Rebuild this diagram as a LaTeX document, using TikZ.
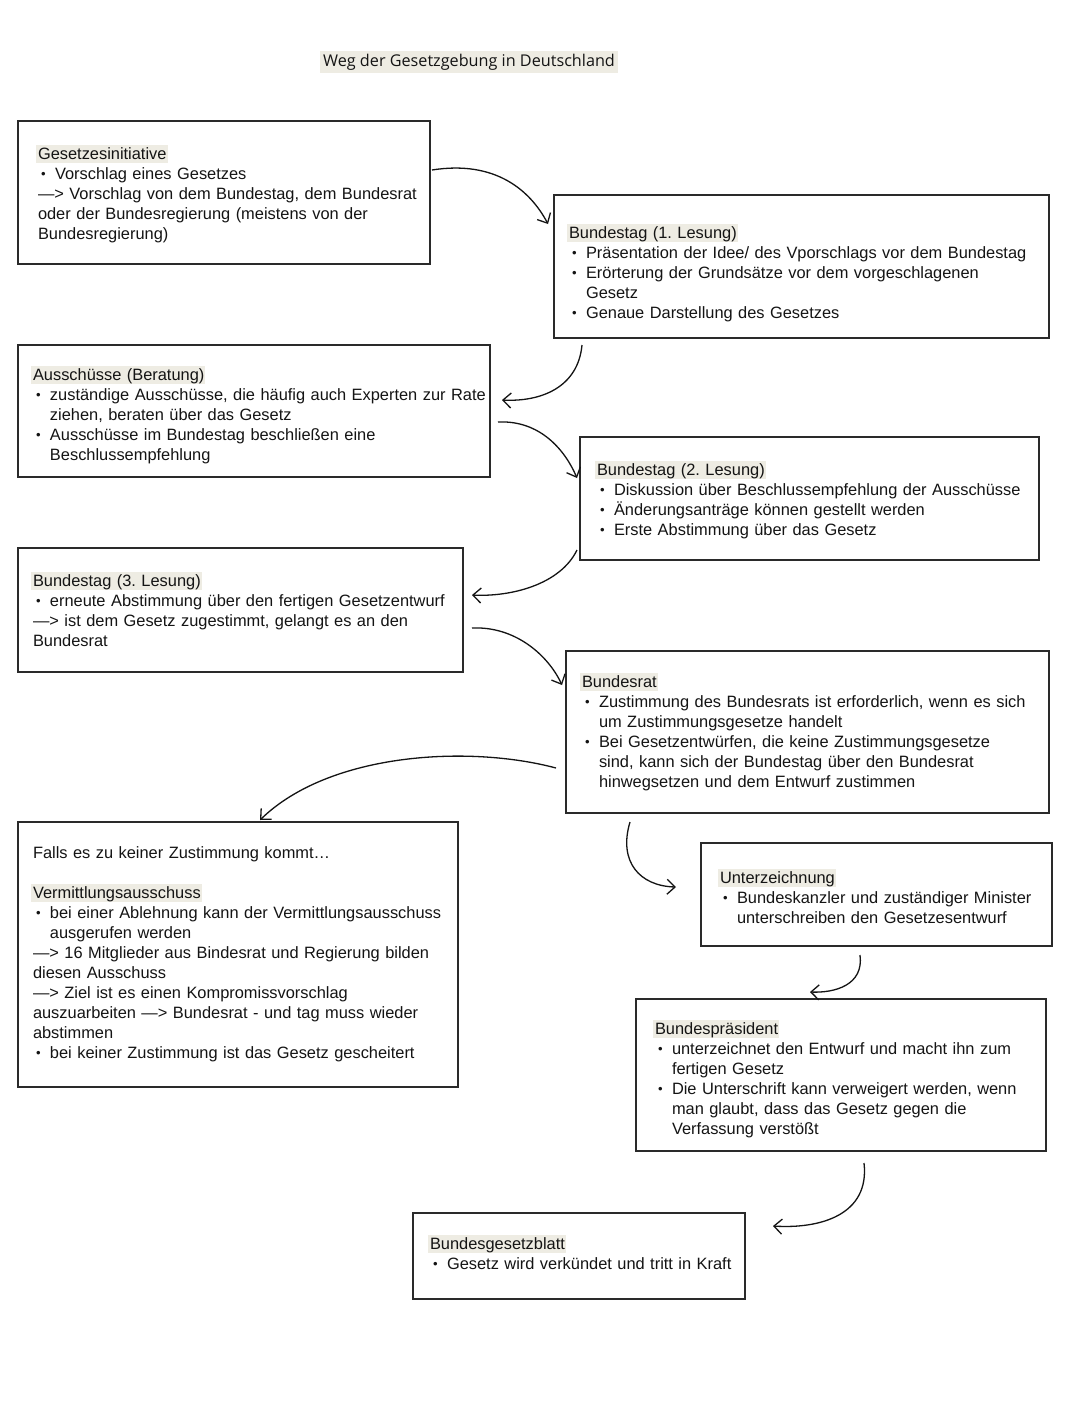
\documentclass[tikz,border=0pt]{standalone}
\usepackage{fontspec}
\usepackage{graphicx}
\setmainfont{Liberation Sans}
\newfontfamily\titlefont{Open Sans}
\usetikzlibrary{arrows.meta}
\definecolor{hl}{HTML}{EEECE3}
\definecolor{ink}{HTML}{141414}
\definecolor{frame}{HTML}{2A2A2A}
\newcommand\hlt[1]{\hspace*{-2pt}{\setlength{\fboxsep}{0pt}\colorbox{hl}{\rule[-3.5pt]{0pt}{18pt}\hspace{2pt}#1\hspace{1pt}}}}
\newcommand\bul{\makebox[17pt][l]{\hspace{3pt}\raisebox{0.6pt}{\scalebox{0.8}{•}}}}
\newcommand\ind{\hspace*{17pt}}
\frenchspacing
\tikzset{
  box/.style={draw=frame, line width=1.6pt, inner sep=0pt, outer sep=0pt},
  txt/.style={anchor=north west, inner sep=0pt, outer sep=0pt, text=ink, text width=640pt, align=left, font=\fontsize{16.4}{20}\selectfont},
  arr/.style={draw=ink, line width=1.3pt, -{Straight Barb[length=8pt,width=15pt,line width=1.3pt]}}
}
\begin{document}
\begin{tikzpicture}[x=1pt,y=-1pt]
\useasboundingbox[fill=white] (0,0) rectangle (1080,1417);

% title
\node[fill=hl, minimum width=298pt, minimum height=22pt, inner sep=0pt, font=\titlefont\fontsize{16.2}{18}\selectfont, text=ink] (title) at (469,62) {Weg der Gesetzgebung in Deutschland};

% boxes
\node[box, minimum width=412pt, minimum height=143pt] (b1) at (224,192.5) {};
\node[box, minimum width=495pt, minimum height=143pt] (b2) at (801.5,266.5) {};
\node[box, minimum width=472pt, minimum height=132pt] (b3) at (254,411) {};
\node[box, minimum width=459pt, minimum height=123pt] (b4) at (809.5,498.5) {};
\node[box, minimum width=445pt, minimum height=124pt] (b5) at (240.5,610) {};
\node[box, minimum width=483pt, minimum height=162pt] (b6) at (807.5,732) {};
\node[box, minimum width=440pt, minimum height=265pt] (b7) at (238,954.5) {};
\node[box, minimum width=351pt, minimum height=103pt] (b8) at (876.5,894.5) {};
\node[box, minimum width=410pt, minimum height=152pt] (b9) at (841,1075) {};
\node[box, minimum width=332pt, minimum height=86pt] (b10) at (579,1256) {};

% texts
\node[txt] (t1) at (38,145) {\hlt{Gesetzesinitiative}\\
\bul Vorschlag eines Gesetzes\\
—> Vorschlag von dem Bundestag, dem Bundesrat\\
oder der Bundesregierung (meistens von der\\
Bundesregierung)};

\node[txt] (t2) at (569,224) {\hlt{Bundestag (1. Lesung)}\\
\bul Präsentation der Idee/ des Vporschlags vor dem Bundestag\\
\bul Erörterung der Grundsätze vor dem vorgeschlagenen\\
\ind Gesetz\\
\bul Genaue Darstellung des Gesetzes};

\node[txt] (t3) at (33,366) {\hlt{Ausschüsse (Beratung)}\\
\bul zuständige Ausschüsse, die häufig auch Experten zur Rate\\
\ind ziehen, beraten über das Gesetz\\
\bul Ausschüsse im Bundestag beschließen eine\\
\ind Beschlussempfehlung};

\node[txt] (t4) at (597,461) {\hlt{Bundestag (2. Lesung)}\\
\bul Diskussion über Beschlussempfehlung der Ausschüsse\\
\bul Änderungsanträge können gestellt werden\\
\bul Erste Abstimmung über das Gesetz};

\node[txt] (t5) at (33,572) {\hlt{Bundestag (3. Lesung)}\\
\bul erneute Abstimmung über den fertigen Gesetzentwurf\\
—> ist dem Gesetz zugestimmt, gelangt es an den\\
Bundesrat};

\node[txt] (t6) at (582,673) {\hlt{Bundesrat}\\
\bul Zustimmung des Bundesrats ist erforderlich, wenn es sich\\
\ind um Zustimmungsgesetze handelt\\
\bul Bei Gesetzentwürfen, die keine Zustimmungsgesetze\\
\ind sind, kann sich der Bundestag über den Bundesrat\\
\ind hinwegsetzen und dem Entwurf zustimmen};

\node[txt] (t7) at (33,844) {\rule{0pt}{14.5pt}Falls es zu keiner Zustimmung kommt…\\[20pt]
\hlt{Vermittlungsausschuss}\\
\bul bei einer Ablehnung kann der Vermittlungsausschuss\\
\ind ausgerufen werden\\
—> 16 Mitglieder aus Bindesrat und Regierung bilden\\
diesen Ausschuss\\
—> Ziel ist es einen Kompromissvorschlag\\
auszuarbeiten —> Bundesrat - und tag muss wieder\\
abstimmen\\
\bul bei keiner Zustimmung ist das Gesetz gescheitert};

\node[txt] (t8) at (720,869) {\hlt{Unterzeichnung}\\
\bul Bundeskanzler und zuständiger Minister\\
\ind unterschreiben den Gesetzesentwurf};

\node[txt] (t9) at (655,1020) {\hlt{Bundespräsident}\\
\bul unterzeichnet den Entwurf und macht ihn zum\\
\ind fertigen Gesetz\\
\bul Die Unterschrift kann verweigert werden, wenn\\
\ind man glaubt, dass das Gesetz gegen die\\
\ind Verfassung verstößt};

\node[txt] (t10) at (430,1235) {\hlt{Bundesgesetzblatt}\\
\bul Gesetz wird verkündet und tritt in Kraft};

% connector end points
\coordinate (a1s) at (432,170);  \coordinate (a1e) at (548,224);
\coordinate (a2s) at (582,345);  \coordinate (a2e) at (502,400);
\coordinate (a3s) at (498,422);  \coordinate (a3e) at (577,478);
\coordinate (a4s) at (577,550);  \coordinate (a4e) at (472,595);
\coordinate (a5s) at (472,628);  \coordinate (a5e) at (562,685);
\coordinate (a6s) at (556,768);  \coordinate (a6e) at (260,820);
\coordinate (a7s) at (630,822);  \coordinate (a7e) at (676,887);
\coordinate (a8s) at (860,955);  \coordinate (a8e) at (810,992);
\coordinate (a9s) at (864,1163); \coordinate (a9e) at (773,1226);

\draw[arr] (a1s) .. controls (495,160) and (530,190) .. (a1e);
\draw[arr] (a2s) .. controls (578,388) and (540,402) .. (a2e);
\draw[arr] (a3s) .. controls (540,420) and (565,450) .. (a3e);
\draw[arr] (a4s) .. controls (560,585) and (510,597) .. (a4e);
\draw[arr] (a5s) .. controls (515,626) and (548,655) .. (a5e);
\draw[arr] (a6s) .. controls (470,745) and (330,752) .. (a6e);
\draw[arr] (a7s) .. controls (618,862) and (640,886) .. (a7e);
\draw[arr] (a8s) .. controls (864,985) and (835,993) .. (a8e);
\draw[arr] (a9s) .. controls (870,1215) and (820,1229) .. (a9e);
\end{tikzpicture}
\end{document}
